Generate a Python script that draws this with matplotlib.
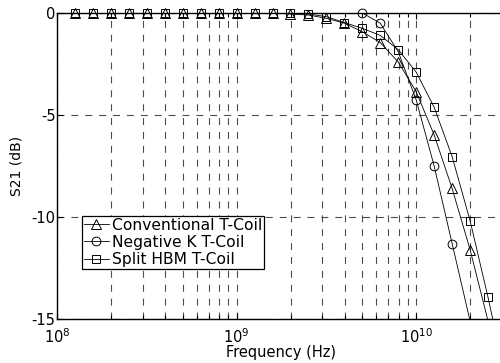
import matplotlib
matplotlib.use("Agg")
import matplotlib.pyplot as plt
import numpy as np
from matplotlib.lines import Line2D
from matplotlib.ticker import LogLocator, FixedLocator, FixedFormatter

plt.rcParams["font.family"] = ["DejaVu Sans"]
plt.rcParams["mathtext.default"] = "regular"
plt.rcParams["lines.scale_dashes"] = False

# log10 of frequency, 0.1 decade steps
log_f = [8.0, 8.1, 8.2, 8.3, 8.4, 8.5, 8.6, 8.7, 8.8, 8.9, 9.0, 9.1, 9.2,
         9.3, 9.4, 9.5, 9.6, 9.7, 9.8, 9.9, 10.0, 10.1, 10.2, 10.3, 10.4, 10.5]

# S21 (dB)
conv_db = [0, 0, 0, 0, 0, 0, 0, 0, 0, 0, 0, 0, 0,
           -0.05, -0.1, -0.26, -0.5, -0.92, -1.45, -2.4, -3.86, -5.98, -8.6, -11.6, -15.1, -18.5]
negk_db = [0, 0, 0, 0, 0, 0, 0, 0, 0, 0, 0, 0, 0,
           0, 0, 0, 0, 0, -0.5, -1.9, -4.26, -7.5, -11.3, -15.1, -19.0, -23.0]
hbm_db = [0, 0, 0, 0, 0, 0, 0, 0, 0, 0, 0, 0, 0,
          -0.02, -0.05, -0.18, -0.47, -0.75, -1.1, -1.8, -2.9, -4.62, -7.04, -10.18, -13.94, -18.0]

# which points carry a marker
conv_marks = list(range(1, 24))
negk_marks = [17, 18, 20, 21, 22]
hbm_marks = list(range(1, 25))

labels = ["Conventional T-Coil", "Negative K T-Coil", "Split HBM T-Coil"]
markers = ["^", "o", "s"]
msizes = {"^": 6.8, "o": 6.3, "s": 6.0}

freq = 10 ** np.array(log_f)

fig = plt.figure(figsize=(5.0, 3.63), dpi=100)
ax = fig.add_axes([57 / 500, 44 / 363, 449 / 500, 306 / 363])

series = [conv_db, negk_db, hbm_db]
marks = [conv_marks, negk_marks, hbm_marks]
for vals, idx, mk in zip(series, marks, markers):
    vals = np.array(vals)
    ax.plot(freq, vals, color="k", lw=0.6)
    ax.plot(freq[idx], vals[idx], ls="none", marker=mk, ms=msizes[mk],
            mfc="none", mec="k", mew=0.7, clip_on=False, zorder=4)

ax.set_xscale("log")
ax.set_xlim(1e8, 10 ** 10.5)
ax.set_ylim(-15, 0)

ax.xaxis.set_major_locator(FixedLocator([1e8, 1e9, 1e10]))
ax.xaxis.set_major_formatter(FixedFormatter(["$10^{8}$", "$10^{9}$", "$10^{10}$"]))
ax.xaxis.set_minor_locator(LogLocator(base=10, subs=np.arange(2, 10), numticks=20))
ax.xaxis.set_minor_formatter(plt.NullFormatter())
ax.yaxis.set_major_locator(FixedLocator([-15, -10, -5, 0]))
ax.yaxis.set_major_formatter(FixedFormatter(["-15", "-10", "-5", "0"]))

ax.tick_params(which="both", direction="in", top=True, right=False, labelsize=10.5,
               width=0.8)
ax.tick_params(axis="y", pad=1)
ax.tick_params(axis="x", pad=6)
ax.tick_params(which="major", length=4)
ax.tick_params(which="minor", length=3)

grid_kw = dict(color="0.3", lw=0.8, ls=(0, (5, 5)))
ax.grid(True, which="both", axis="x", **grid_kw)
ax.grid(True, which="major", axis="y", **grid_kw)

for s in ax.spines.values():
    s.set_linewidth(1.0)
ax.spines["right"].set_visible(False)

ax.set_xlabel("Frequency (Hz)", fontsize=10.5, labelpad=-1)
ax.set_ylabel("S21 (dB)", fontsize=10, labelpad=6)

handles = [Line2D([], [], color="k", lw=0.6, marker=m, ms=msizes[m],
                  mfc="none", mec="k", mew=0.7) for m in markers]
leg = ax.legend(handles, labels, loc="lower left", bbox_to_anchor=(0.0557, 0.163),
                borderaxespad=0, fontsize=11.2, frameon=True, fancybox=False,
                edgecolor="k", framealpha=1, borderpad=0.12, labelspacing=0.15,
                handlelength=1.6, handletextpad=0.2)
leg.get_frame().set_linewidth(0.9)

fig.savefig("out.png", dpi=100)
